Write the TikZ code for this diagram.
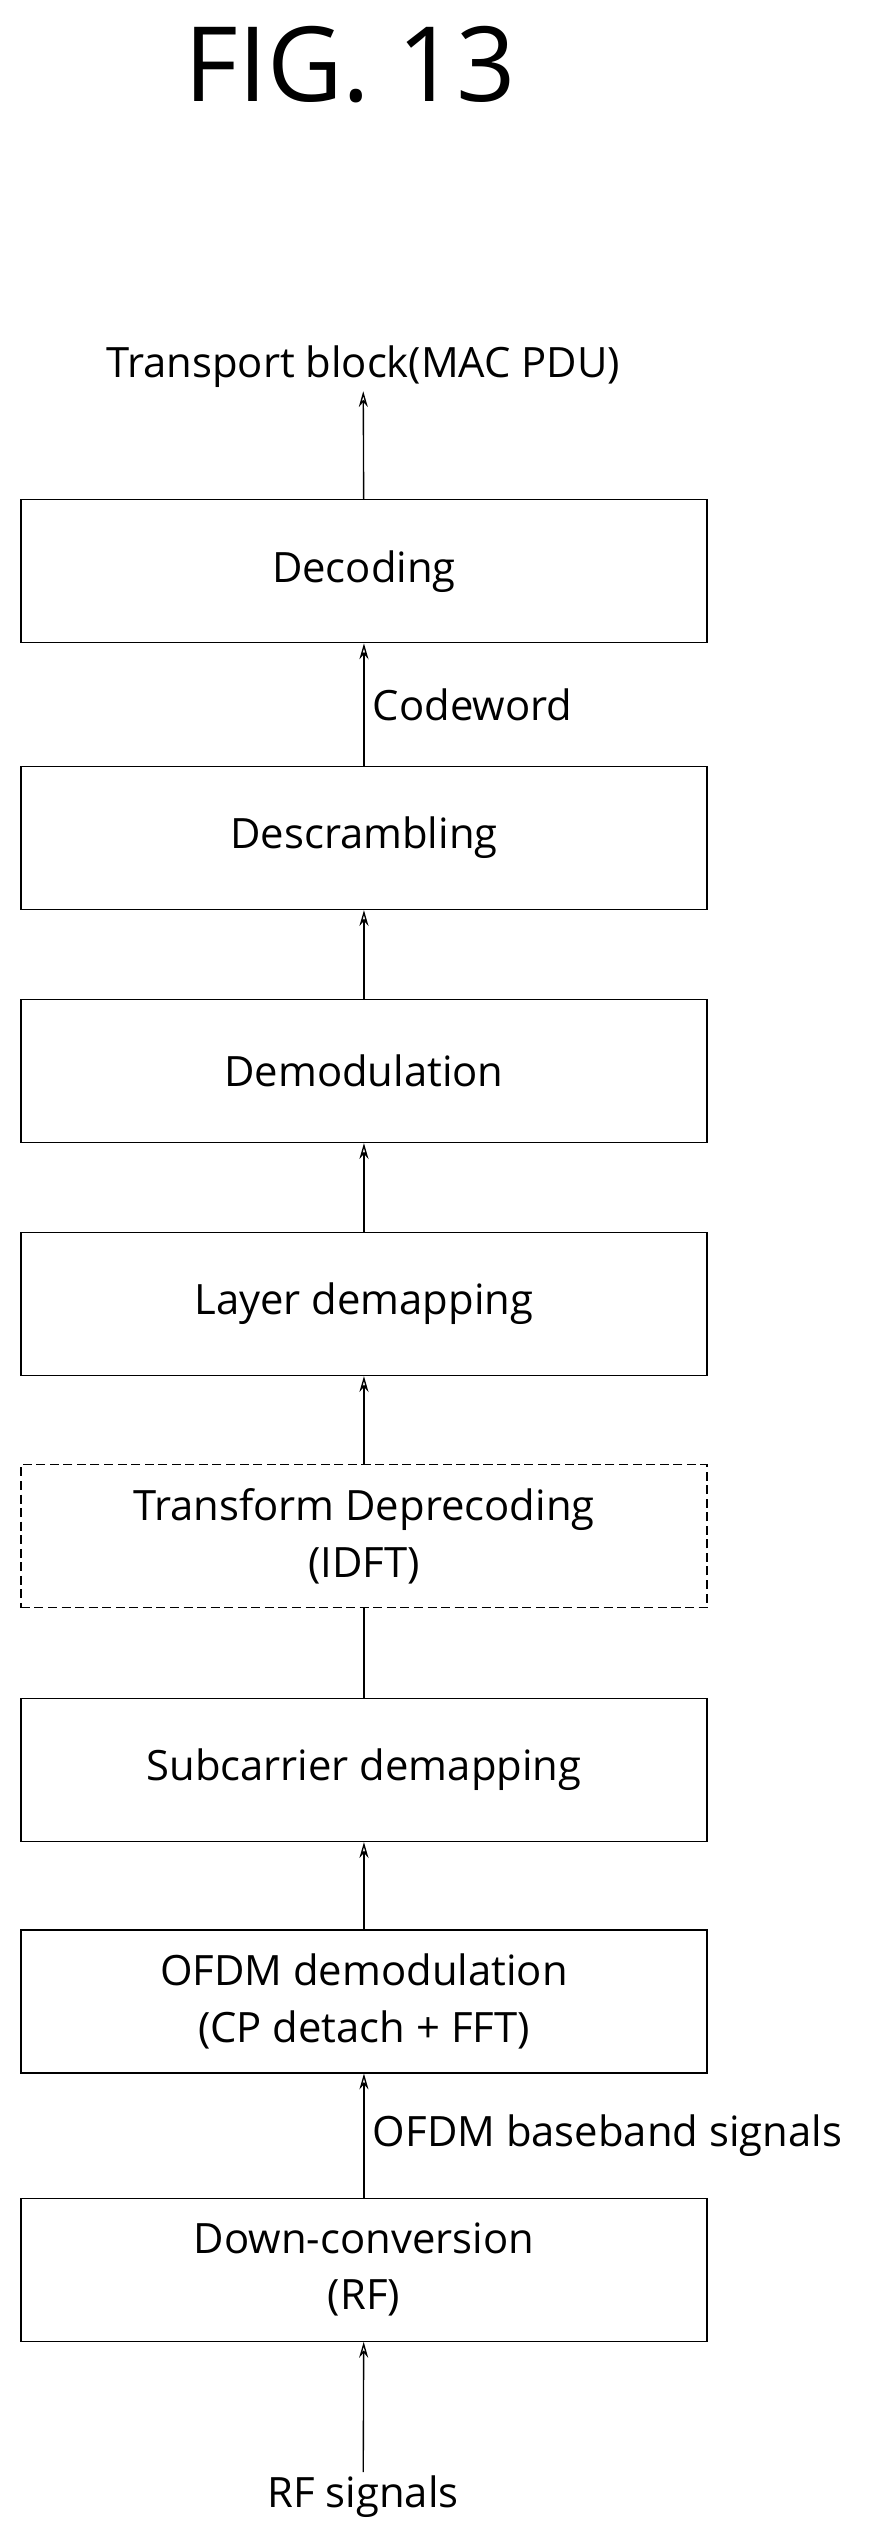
\documentclass[tikz,border=0pt]{standalone}
\usepackage{fontspec}
\setmainfont{Open Sans}
\usetikzlibrary{positioning,arrows.meta}
\tikzset{
  blk/.style={draw,line width=1.2pt,minimum width=21.35cm,minimum height=4.45cm,align=center,font=\fontsize{37}{50}\selectfont},
  lbl/.style={font=\fontsize{37}{50}\selectfont},
  flow/.style={->,line width=1.2pt,>={Stealth[open,length=14pt,width=8pt]}}
}
\begin{document}
\begin{tikzpicture}[x=0.05cm,y=-0.05cm]
	\useasboundingbox (0,0) rectangle (547,1572);
	\node (fig) at (218,40) {\fontsize{92}{100}\selectfont FIG. 13};
	\node[lbl] (tb) at (226,228) {Transport block(MAC PDU)};
	\node[blk] (dec) at (226.5,355.5) {Decoding};
	\node[blk] (descr) at (226.5,521.5) {Descrambling};
	\node[blk] (demod) at (226.5,666.5) {Demodulation};
	\node[blk] (layer) at (226.5,811.5) {Layer demapping};
	\node[blk,dash pattern=on 8pt off 4pt] (tdp) at (226.5,956) {Transform Deprecoding\\(IDFT)};
	\node[blk] (subc) at (226.5,1101.5) {Subcarrier demapping};
	\node[blk] (ofdm) at (226.5,1245.5) {OFDM demodulation\\(CP detach + FFT)};
	\node[blk] (down) at (226.5,1412.5) {Down-conversion\\(RF)};
	\node[lbl] (rf) at (226,1554) {RF signals};

	% draw the connections
	\draw[flow] (dec)--(tb);
	\draw[flow] (descr)--node[right,lbl,xshift=4pt]{Codeword}(dec);
	\draw[flow] (demod)--(descr);
	\draw[flow] (layer)--(demod);
	\draw[flow] (tdp)--(layer);
	\draw[line width=1.2pt] (subc)--(tdp);
	\draw[flow] (ofdm)--(subc);
	\draw[flow] (down)--node[right,lbl,xshift=4pt]{OFDM baseband signals}(ofdm);
	\draw[flow] (rf)--(down);
\end{tikzpicture}
\end{document}
